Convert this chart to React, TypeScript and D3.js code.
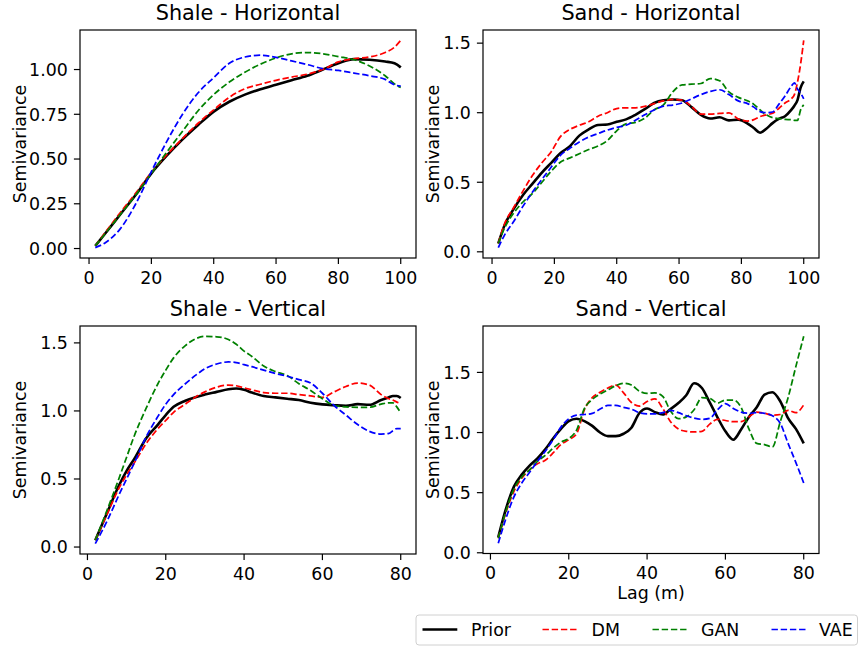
import React from "react";
import * as d3 from "d3";

// ---------- DATA ----------
const lagShaleH = [2, 5, 10, 15, 20, 25, 30, 35, 40, 45, 50, 55, 60, 65, 70, 75, 80, 85, 90, 95, 98, 100];
const priorShaleH = [0.015, 0.08, 0.19, 0.3, 0.42, 0.52, 0.61, 0.69, 0.765, 0.82, 0.86, 0.89, 0.915, 0.94, 0.965, 1.0, 1.035, 1.058, 1.055, 1.045, 1.035, 1.012];
const dmShaleH = [0.015, 0.085, 0.2, 0.31, 0.425, 0.525, 0.615, 0.7, 0.775, 0.845, 0.893, 0.918, 0.94, 0.958, 0.974, 1.0, 1.043, 1.06, 1.07, 1.095, 1.125, 1.163];
const ganShaleH = [0.015, 0.08, 0.19, 0.3, 0.42, 0.54, 0.655, 0.77, 0.86, 0.93, 0.985, 1.03, 1.065, 1.088, 1.095, 1.088, 1.072, 1.055, 1.02, 0.965, 0.92, 0.9];
const vaeShaleH = [0.005, 0.03, 0.11, 0.25, 0.43, 0.6, 0.75, 0.87, 0.955, 1.035, 1.07, 1.08, 1.068, 1.048, 1.028, 1.005, 0.995, 0.98, 0.965, 0.945, 0.915, 0.907];

const lagSandH = [2, 4, 7, 10, 13, 16, 19, 22, 25, 28, 31, 34, 37, 40, 43, 46, 49, 52, 55, 58, 61, 64, 67, 70, 73, 76, 79, 82, 84, 86, 88, 90, 92, 94, 96, 97, 98, 99, 100];
const priorSandH = [0.06, 0.19, 0.31, 0.41, 0.49, 0.57, 0.64, 0.71, 0.76, 0.835, 0.88, 0.912, 0.915, 0.935, 0.952, 0.985, 1.025, 1.07, 1.09, 1.095, 1.09, 1.04, 0.984, 0.958, 0.967, 0.945, 0.95, 0.922, 0.89, 0.856, 0.885, 0.925, 0.955, 0.975, 1.02, 1.05, 1.09, 1.18, 1.225];
const dmSandH = [0.06, 0.2, 0.32, 0.44, 0.55, 0.64, 0.72, 0.83, 0.88, 0.91, 0.935, 0.975, 1.0, 1.03, 1.035, 1.035, 1.045, 1.065, 1.085, 1.095, 1.09, 1.045, 0.99, 0.99, 0.995, 0.998, 0.955, 0.94, 0.95, 0.972, 0.985, 0.996, 1.03, 1.07, 1.1, 1.13, 1.22, 1.35, 1.52];
const ganSandH = [0.06, 0.17, 0.28, 0.36, 0.42, 0.5, 0.58, 0.645, 0.675, 0.705, 0.735, 0.76, 0.8, 0.87, 0.92, 0.93, 0.96, 1.02, 1.057, 1.15, 1.2, 1.205, 1.21, 1.245, 1.23, 1.15, 1.11, 1.085, 1.06, 1.02, 0.985, 0.965, 0.958, 0.952, 0.95, 0.945, 0.945, 1.02, 1.056];
const vaeSandH = [0.03, 0.12, 0.22, 0.33, 0.43, 0.52, 0.61, 0.695, 0.745, 0.79, 0.825, 0.85, 0.875, 0.895, 0.91, 0.945, 0.985, 1.02, 1.047, 1.055, 1.07, 1.1, 1.13, 1.153, 1.165, 1.13, 1.085, 1.065, 1.04, 1.008, 1.0, 1.005, 1.06, 1.12, 1.19, 1.215, 1.17, 1.14, 1.1];

const lagShaleV = [2, 5, 8, 10, 12, 15, 18, 20, 22, 25, 28, 30, 33, 36, 38, 40, 42, 45, 48, 51, 54, 57, 60, 63, 66, 69, 72, 75, 77, 78, 79, 80];
const priorShaleV = [0.05, 0.25, 0.45, 0.56, 0.65, 0.8, 0.9, 0.97, 1.03, 1.075, 1.105, 1.12, 1.14, 1.16, 1.165, 1.155, 1.135, 1.11, 1.1, 1.09, 1.08, 1.06, 1.048, 1.042, 1.038, 1.05, 1.045, 1.08, 1.1, 1.11, 1.11, 1.095];
const dmShaleV = [0.05, 0.24, 0.43, 0.53, 0.62, 0.76, 0.87, 0.93, 0.99, 1.05, 1.11, 1.14, 1.175, 1.19, 1.185, 1.17, 1.155, 1.135, 1.13, 1.13, 1.12, 1.11, 1.1, 1.14, 1.18, 1.205, 1.19, 1.12, 1.09, 1.08, 1.065, 1.055];
const ganShaleV = [0.05, 0.27, 0.5, 0.66, 0.82, 1.02, 1.2, 1.3, 1.39, 1.48, 1.535, 1.548, 1.545, 1.525, 1.49, 1.44, 1.4, 1.33, 1.29, 1.26, 1.2, 1.15, 1.09, 1.04, 1.03, 1.027, 1.027, 1.05, 1.06, 1.06, 1.03, 0.985];
const vaeShaleV = [0.025, 0.19, 0.38, 0.5, 0.62, 0.81, 0.96, 1.05, 1.12, 1.2, 1.27, 1.31, 1.345, 1.36, 1.355, 1.34, 1.325, 1.3, 1.275, 1.255, 1.23, 1.205, 1.13, 1.04, 0.97, 0.9, 0.85, 0.83, 0.835, 0.855, 0.87, 0.87];

const lagSandV = [2, 4, 6, 8, 10, 12, 14, 16, 18, 20, 22, 24, 26, 28, 30, 32, 34, 36, 38, 40, 42, 44, 46, 48, 50, 52, 54, 56, 58, 60, 62, 64, 66, 68, 70, 72, 74, 76, 78, 80];
const priorSandV = [0.13, 0.37, 0.55, 0.65, 0.725, 0.785, 0.86, 0.95, 1.03, 1.095, 1.115, 1.095, 1.055, 1.0, 0.97, 0.97, 0.99, 1.04, 1.16, 1.2, 1.17, 1.15, 1.195, 1.245, 1.31, 1.41, 1.37, 1.25, 1.125, 1.01, 0.94, 1.025, 1.13, 1.21, 1.315, 1.335, 1.26, 1.12, 1.03, 0.91];
const dmSandV = [0.12, 0.34, 0.51, 0.62, 0.69, 0.74, 0.77, 0.83, 0.9, 0.94, 0.99, 1.19, 1.29, 1.335, 1.37, 1.395, 1.33, 1.25, 1.22, 1.258, 1.28, 1.2, 1.09, 1.03, 1.01, 1.005, 1.01, 1.07, 1.11, 1.1, 1.09, 1.09, 1.13, 1.17, 1.16, 1.145, 1.15, 1.185, 1.165, 1.23];
const ganSandV = [0.12, 0.35, 0.53, 0.63, 0.69, 0.76, 0.81, 0.87, 0.92, 0.95, 1.02, 1.2, 1.275, 1.32, 1.355, 1.39, 1.41, 1.395, 1.345, 1.325, 1.33, 1.3, 1.18, 1.115, 1.13, 1.19, 1.29, 1.284, 1.245, 1.27, 1.27, 1.21, 1.03, 0.91, 0.9, 0.88, 1.09, 1.29, 1.55, 1.8];
const vaeSandV = [0.08, 0.29, 0.465, 0.58, 0.67, 0.76, 0.845, 0.94, 1.045, 1.115, 1.145, 1.15, 1.16, 1.195, 1.225, 1.225, 1.21, 1.195, 1.165, 1.155, 1.155, 1.165, 1.185, 1.165, 1.14, 1.12, 1.11, 1.118, 1.19, 1.24, 1.2, 1.17, 1.16, 1.165, 1.16, 1.14, 1.077, 0.91, 0.75, 0.58];

const seriesNames = ["Prior", "DM", "GAN", "VAE"];
const seriesColors = ["#000000", "#ff0000", "#008000", "#0000ff"];

const panelTitles = ["Shale - Horizontal", "Sand - Horizontal", "Shale - Vertical", "Sand - Vertical"];
const xTicksH = [0, 20, 40, 60, 80, 100];
const xTicksV = [0, 20, 40, 60, 80];
const yTicksShaleH = [0, 0.25, 0.5, 0.75, 1.0];
const yTicksOther = [0, 0.5, 1.0, 1.5];

// ---------- LAYOUT ----------
const W = 859;
const H = 648;
const FONT = "'DejaVu Sans', sans-serif";
const TICK_FS = 17.4;
const TITLE_FS = 20.8;
const TICK_LEN = 6.1;
const boxes = [
  { x: 80, y: 30, w: 336, h: 228 },
  { x: 483, y: 30, w: 336, h: 228 },
  { x: 80, y: 326, w: 336, h: 228 },
  { x: 483, y: 326, w: 336, h: 227.5 },
];

const panels = [
  { lags: lagShaleH, series: [priorShaleH, dmShaleH, ganShaleH, vaeShaleH], xTicks: xTicksH, yTicks: yTicksShaleH, yFmt: ".2f" },
  { lags: lagSandH, series: [priorSandH, dmSandH, ganSandH, vaeSandH], xTicks: xTicksH, yTicks: yTicksOther, yFmt: ".1f" },
  { lags: lagShaleV, series: [priorShaleV, dmShaleV, ganShaleV, vaeShaleV], xTicks: xTicksV, yTicks: yTicksOther, yFmt: ".1f" },
  { lags: lagSandV, series: [priorSandV, dmSandV, ganSandV, vaeSandV], xTicks: xTicksV, yTicks: yTicksOther, yFmt: ".1f" },
];

function pad(ext: [number, number]): [number, number] {
  const r = ext[1] - ext[0];
  return [ext[0] - 0.05 * r, ext[1] + 0.05 * r];
}

function Panel({ idx }: { idx: number }) {
  const p = panels[idx];
  const b = boxes[idx];
  const xExt = d3.extent(p.lags) as [number, number];
  const allY = p.series.flat();
  const yExt = d3.extent(allY) as [number, number];
  const x = d3.scaleLinear().domain(pad(xExt)).range([b.x, b.x + b.w]);
  const y = d3.scaleLinear().domain(pad(yExt)).range([b.y + b.h, b.y]);
  const fmt = d3.format(p.yFmt);
  const line = d3
    .line<[number, number]>()
    .x((d) => x(d[0]))
    .y((d) => y(d[1]))
    .curve(d3.curveMonotoneX);
  const clipId = `clip${idx}`;
  const isRight = idx % 2 === 1;
  const ylabelX = isRight ? 439 : 26;
  return (
    <g>
      <defs>
        <clipPath id={clipId}>
          <rect x={b.x} y={b.y} width={b.w} height={b.h} />
        </clipPath>
      </defs>
      <g clipPath={`url(#${clipId})`}>
        {p.series.map((vals, si) => {
          const pts = p.lags.map((l, i) => [l, vals[i]] as [number, number]).filter((d) => d[1] !== undefined);
          return (
            <path
              key={si}
              d={line(pts) || ""}
              fill="none"
              stroke={seriesColors[si]}
              strokeWidth={si === 0 ? 2.6 : 1.74}
              strokeDasharray={si === 0 ? undefined : "6.4,2.8"}
              strokeLinejoin="round"
            />
          );
        })}
      </g>
      <rect x={b.x} y={b.y} width={b.w} height={b.h} fill="none" stroke="#000" strokeWidth={1.2} />
      {p.xTicks.map((t) => (
        <g key={`x${t}`}>
          <line x1={x(t)} x2={x(t)} y1={b.y + b.h} y2={b.y + b.h + TICK_LEN} stroke="#000" strokeWidth={1.2} />
          <text x={x(t)} y={b.y + b.h + 25.5} textAnchor="middle" fontSize={TICK_FS} fontFamily={FONT} fill="#000">
            {t}
          </text>
        </g>
      ))}
      {p.yTicks.map((t) => (
        <g key={`y${t}`}>
          <line x1={b.x - TICK_LEN} x2={b.x} y1={y(t)} y2={y(t)} stroke="#000" strokeWidth={1.2} />
          <text x={b.x - 12.2} y={y(t)} dy="0.36em" textAnchor="end" fontSize={TICK_FS} fontFamily={FONT} fill="#000">
            {fmt(t)}
          </text>
        </g>
      ))}
      <text
        x={ylabelX}
        y={b.y + b.h / 2}
        transform={`rotate(-90, ${ylabelX}, ${b.y + b.h / 2})`}
        textAnchor="middle"
        fontSize={TICK_FS}
        fontFamily={FONT}
        fill="#000"
      >
        Semivariance
      </text>
      <text x={b.x + b.w / 2} y={b.y - 10.5} textAnchor="middle" fontSize={TITLE_FS} fontFamily={FONT} fill="#000">
        {panelTitles[idx]}
      </text>
    </g>
  );
}

function Legend() {
  const starts = [422.5, 542.5, 652.5, 771.5];
  const textX = [471, 591.5, 701, 819];
  return (
    <g>
      <rect x={416} y={615} width={441.5} height={30} rx={3} fill="#fff" stroke="#d0d0d0" strokeWidth={1} />
      {seriesNames.map((n, i) => (
        <g key={n}>
          <line
            x1={starts[i]}
            x2={starts[i] + 34.8}
            y1={629.5}
            y2={629.5}
            stroke={seriesColors[i]}
            strokeWidth={i === 0 ? 2.6 : 1.74}
            strokeDasharray={i === 0 ? undefined : "6.4,2.8"}
          />
          <text x={textX[i]} y={635.8} fontSize={TICK_FS} fontFamily={FONT} fill="#000">
            {n}
          </text>
        </g>
      ))}
    </g>
  );
}

export default function App() {
  const b4 = boxes[3];
  return (
    <svg
      width={W}
      height={H}
      viewBox={`0 0 ${W} ${H}`}
      style={{ position: "absolute", left: 0, top: 0, background: "#fff" }}
    >
      <rect x={0} y={0} width={W} height={H} fill="#fff" />
      {panels.map((_, i) => (
        <Panel key={i} idx={i} />
      ))}
      <text x={b4.x + b4.w / 2} y={598.5} textAnchor="middle" fontSize={TICK_FS} fontFamily={FONT} fill="#000">
        Lag (m)
      </text>
      <Legend />
    </svg>
  );
}
